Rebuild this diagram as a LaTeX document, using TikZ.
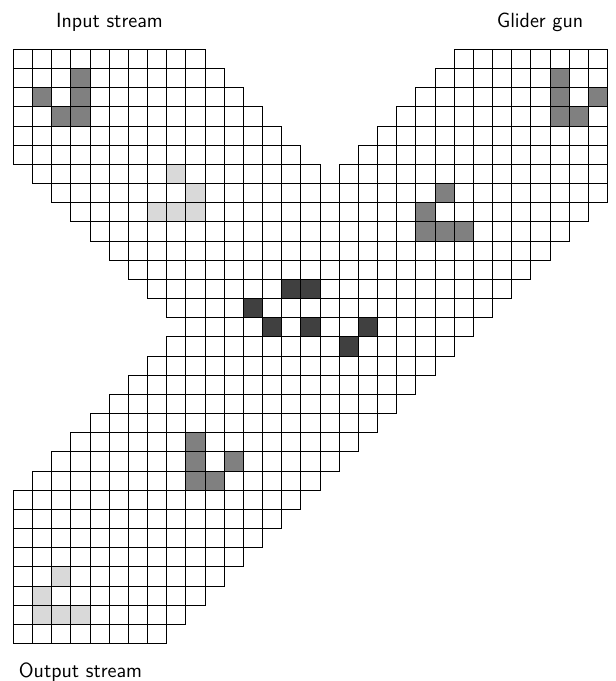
\documentclass[tikz,border=0pt]{standalone}
\usetikzlibrary{calc}
\definecolor{glider}{HTML}{808080}
\definecolor{ghost}{HTML}{D9D9D9}
\definecolor{hit}{HTML}{404040}
\tikzset{
  cellline/.style={draw=black,line width=0.6pt},
  label/.style={font=\sffamily\fontsize{15.4}{18}\selectfont,anchor=base,inner sep=0pt},
}
\begin{document}
\begin{tikzpicture}[x=0.75pt,y=-0.75pt]
\useasboundingbox (0,0) rectangle (616,681);
\node[label] (input) at (109.5,27.3) {Input stream};
\node[label] (gun) at (540,27.3) {Glider gun};
\node[label] (output) at (80.5,677) {Output stream};
\begin{scope}[shift={(13.3,49.3)},x=14.3775pt,y=-14.3775pt]
  % coloured cells
  \foreach \c/\r in {3/1,1/2,3/2,2/3,3/3, 28/1,28/2,30/2,28/3,29/3, 22/7,21/8,21/9,22/9,23/9, 9/20,9/21,11/21,9/22,10/22}
    \fill[glider] (\c,\r) rectangle ++(1,1);
  \foreach \c/\r in {8/6,9/7,7/8,8/8,9/8, 2/27,1/28,1/29,2/29,3/29}
    \fill[ghost] (\c,\r) rectangle ++(1,1);
  \foreach \c/\r in {14/12,15/12,12/13,13/14,15/14,18/14,17/15}
    \fill[hit] (\c,\r) rectangle ++(1,1);
  % grid cells
  \foreach \r in {0,...,30}{
    \foreach \c in {0,...,30}{
      \pgfmathtruncatemacro\ins{((\c+\r<=37) && ((\c+\r>=23) || ((\c-\r>=-5) && (\c-\r<=9)))) ? 1 : 0}
      \ifnum\ins=1
        \draw[cellline] (\c,\r) rectangle ++(1,1);
      \fi
    }
  }
\end{scope}
\end{tikzpicture}
\end{document}
